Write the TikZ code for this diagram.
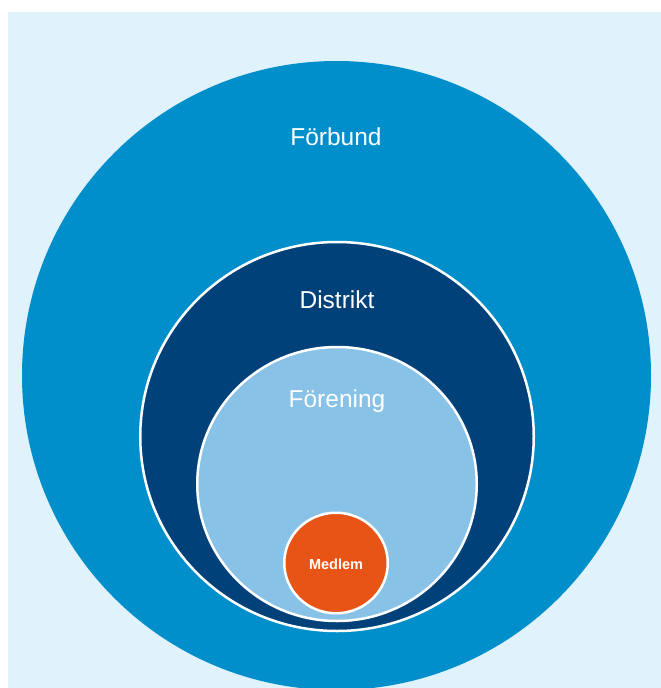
\documentclass[tikz,border=0pt]{standalone}
\usepackage{fontspec}
\usetikzlibrary{shapes.geometric}
\setmainfont{Liberation Sans}
\definecolor{bgblue}{RGB}{224,242,252}
\definecolor{forbund}{RGB}{0,143,203}
\definecolor{distrikt}{RGB}{0,65,122}
\definecolor{forening}{RGB}{136,194,230}
\definecolor{medlem}{RGB}{232,84,21}
\tikzset{
  ring/.style={ellipse, draw=white, line width=2.5pt, inner sep=0pt, outer sep=0pt},
  lbl/.style={text=white, inner sep=0pt, font=\fontsize{24.5}{28}\selectfont},
}
\begin{document}
\begin{tikzpicture}[x=1pt,y=-1pt]
\useasboundingbox (0,0) rectangle (661,688);
\fill[bgblue] (8,12) rectangle (661,688);
\begin{scope}
\clip (8,12) rectangle (661,688);
\node[ellipse, fill=forbund, inner sep=0pt, outer sep=0pt, minimum width=629pt, minimum height=629pt] (forbund) at (336.5,375.5) {};
\node[ring, fill=distrikt, minimum width=393.5pt, minimum height=389pt] (distrikt) at (337,436.5) {};
\node[ring, fill=forening, minimum width=279.5pt, minimum height=274pt] (forening) at (337,484) {};
\node[ring, fill=medlem, minimum width=103.5pt, minimum height=100.5pt] (medlem) at (336,563) {};
\end{scope}
\node[lbl] (tforbund) at (336,137) {Förbund};
\node[lbl] (tdistrikt) at (337,300) {Distrikt};
\node[lbl] (tforening) at (337,401) {Förening};
\node[text=white, inner sep=0pt, font=\bfseries\fontsize{14.5}{17}\selectfont] (tmedlem) at (336,564.5) {Medlem};
\end{tikzpicture}
\end{document}
